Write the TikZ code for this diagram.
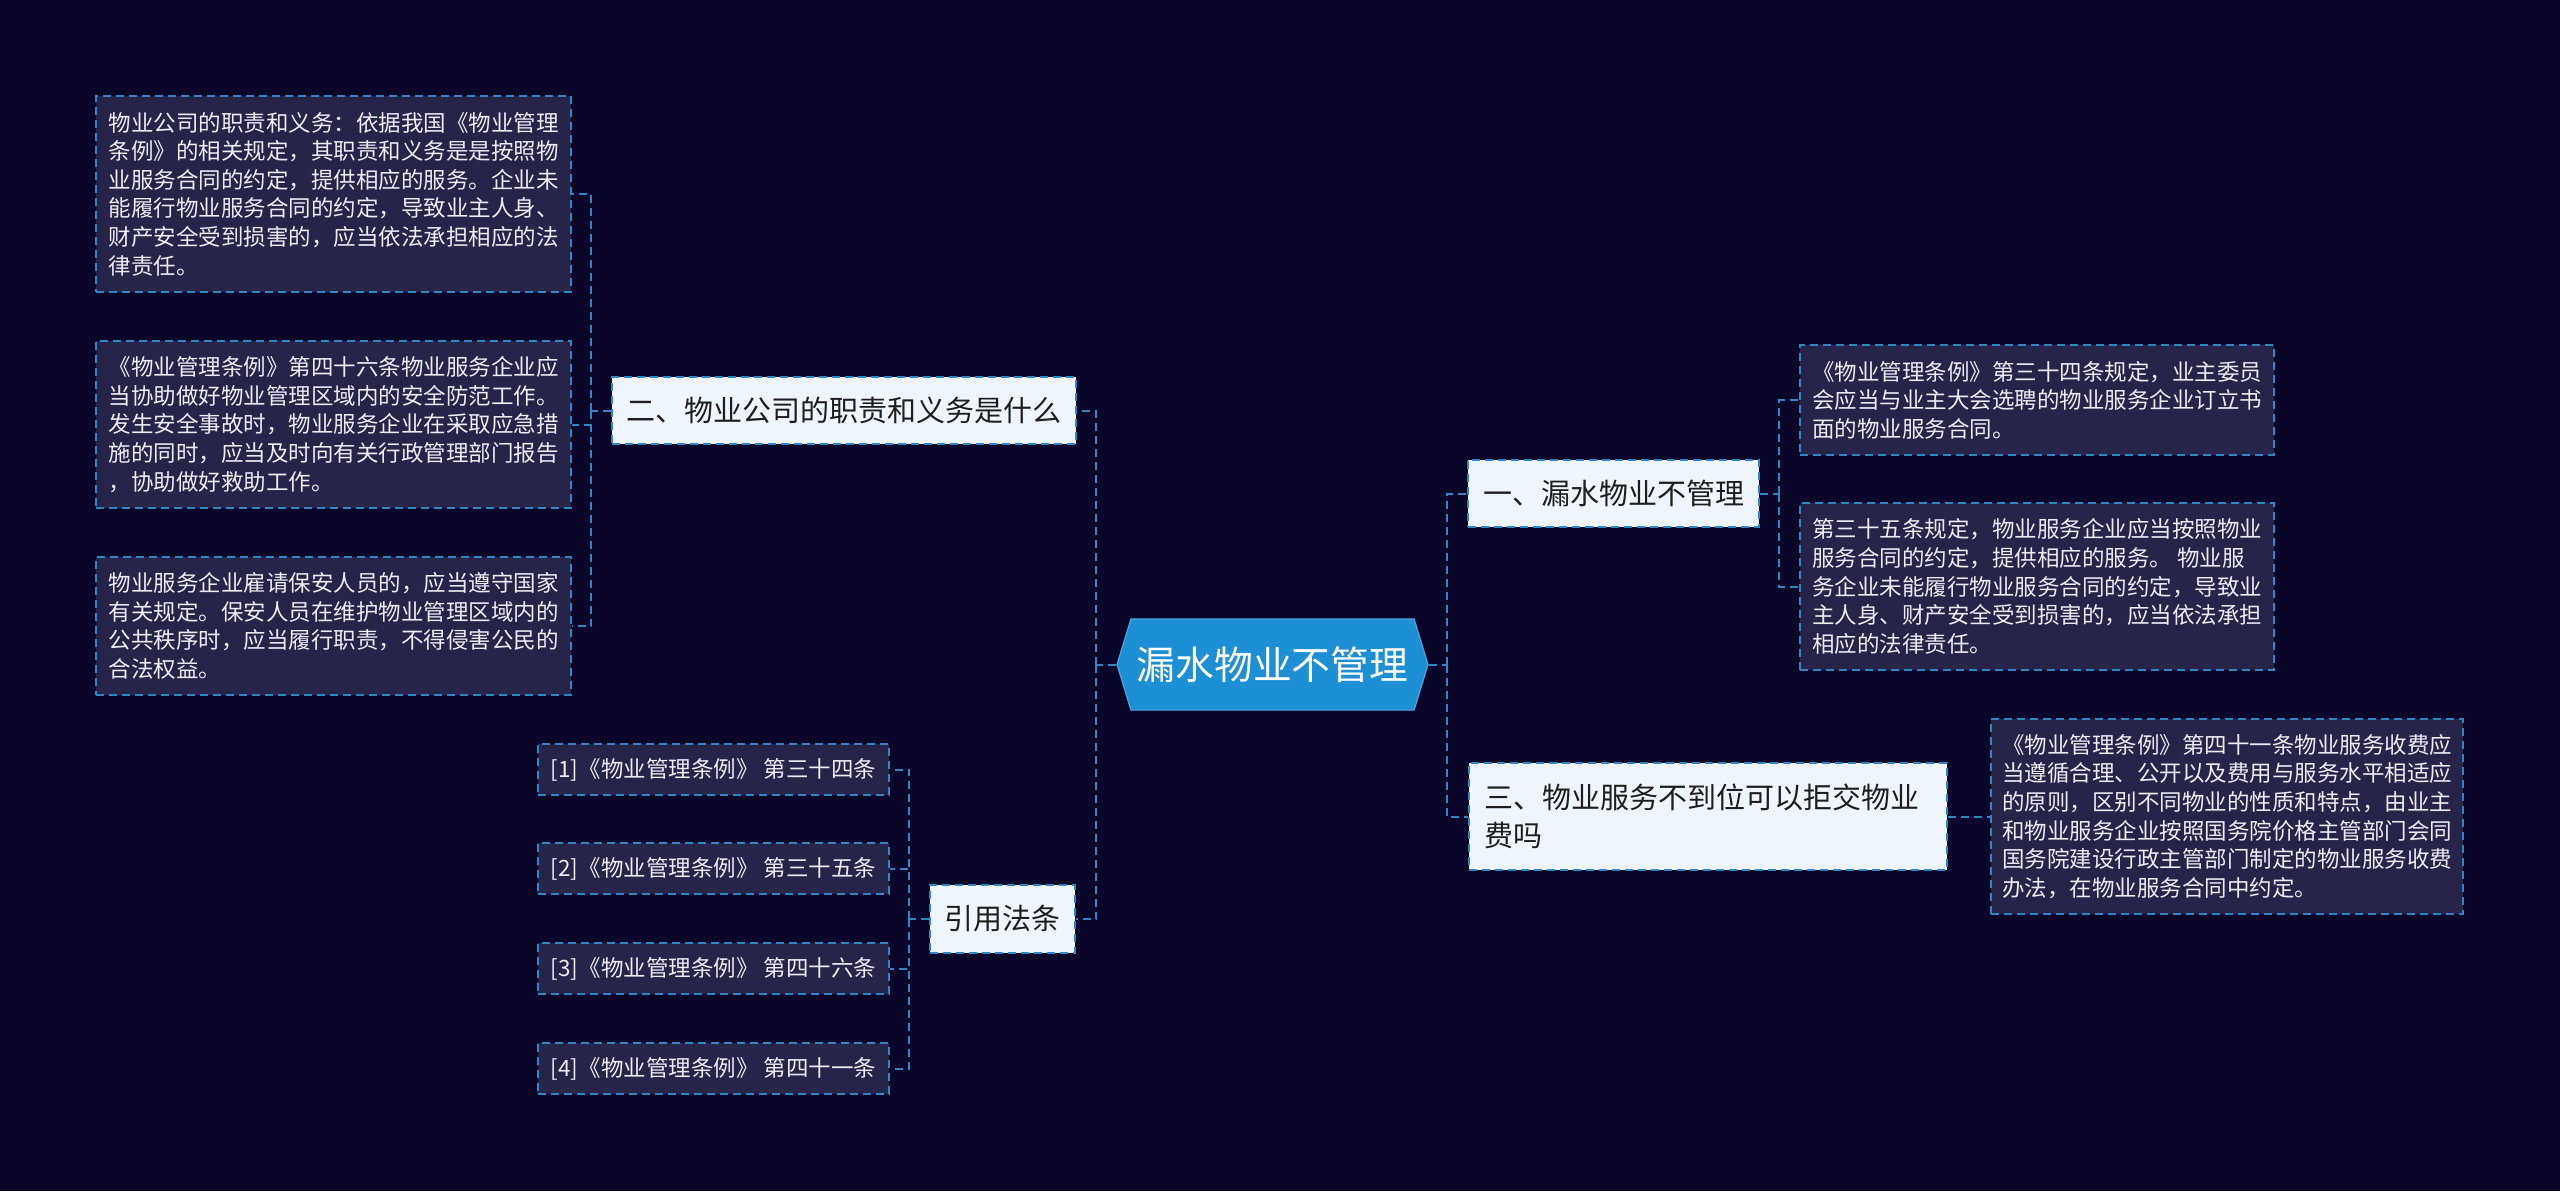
\documentclass[tikz,border=0pt]{standalone}
\usepackage{fontspec}
\setmainfont{Noto Sans CJK SC}
\usetikzlibrary{shapes.symbols}

\definecolor{bgnavy}{HTML}{0A0629}
\definecolor{linkblue}{HTML}{2E86C8}
\definecolor{leaffill}{HTML}{27244A}
\definecolor{leaftext}{HTML}{ECECF2}
\definecolor{topicfill}{HTML}{EEF5FD}
\definecolor{topictext}{HTML}{1E1E1E}
\definecolor{rootfill}{HTML}{1D8FD4}

\tikzset{
  linkline/.style={draw=linkblue, line width=1pt, dash pattern=on 4pt off 2.5pt},
  leafbox/.style={linkline, fill=leaffill, text=leaftext, align=left, inner sep=0pt,
    font=\fontsize{11.25pt}{14.3pt}\selectfont},
  topicbox/.style={linkline, fill=topicfill, text=topictext, align=left, inner sep=0pt,
    font=\fontsize{14.5pt}{19pt}\selectfont},
  rootbox/.style={shape=signal, signal to=east and west, signal pointer angle=146,
    fill=rootfill, draw=rootfill!80!white, line width=0.6pt, text=white, inner sep=0pt,
    font=\fontsize{19.4pt}{23pt}\selectfont}
}

\begin{document}
\begin{tikzpicture}[x=0.5pt,y=-0.5pt]

  \fill[bgnavy] (0,0) rectangle (2560,1191);
  \useasboundingbox (0,0) rectangle (2560,1191);

  % ========== Root ==========
  \node[rootbox, minimum width=155.5pt, minimum height=45.5pt] (root) at (1272.5,664.5) {漏水物业不管理};

  % ========== Right side ==========
  \node[topicbox, minimum width=145.5pt, minimum height=33.5pt] (q1) at (1613.5,493.5) {一、漏水物业不管理};
  \node[topicbox, text width=224pt, minimum width=239pt, minimum height=53.5pt] (q3) at (1708,816.5)
    {三、物业服务不到位可以拒交物业\\费吗};

  \node[leafbox, minimum width=237pt, minimum height=55pt] (r1) at (2037,400)
    {《物业管理条例》第三十四条规定，业主委员\\会应当与业主大会选聘的物业服务企业订立书\\面的物业服务合同。};
  \node[leafbox, minimum width=237pt, minimum height=83.5pt] (r2) at (2037,586.5)
    {第三十五条规定，物业服务企业应当按照物业\\服务合同的约定，提供相应的服务。 物业服\\务企业未能履行物业服务合同的约定，导致业\\主人身、财产安全受到损害的，应当依法承担\\相应的法律责任。};
  \node[leafbox, minimum width=236pt, minimum height=97.5pt] (r3) at (2227,816.5)
    {《物业管理条例》第四十一条物业服务收费应\\当遵循合理、公开以及费用与服务水平相适应\\的原则，区别不同物业的性质和特点，由业主\\和物业服务企业按照国务院价格主管部门会同\\国务院建设行政主管部门制定的物业服务收费\\办法，在物业服务合同中约定。};

  % ========== Left side ==========
  \node[topicbox, minimum width=232pt, minimum height=33.5pt] (q2) at (844,410.5) {二、物业公司的职责和义务是什么};
  \node[topicbox, minimum width=72.5pt, minimum height=34pt] (q4) at (1002.5,919) {引用法条};

  \node[leafbox, minimum width=237.5pt, minimum height=98pt] (l1) at (333.5,194)
    {物业公司的职责和义务：依据我国《物业管理\\条例》的相关规定，其职责和义务是是按照物\\业服务合同的约定，提供相应的服务。企业未\\能履行物业服务合同的约定，导致业主人身、\\财产安全受到损害的，应当依法承担相应的法\\律责任。};
  \node[leafbox, minimum width=237.5pt, minimum height=83.5pt] (l2) at (333.5,424.5)
    {《物业管理条例》第四十六条物业服务企业应\\当协助做好物业管理区域内的安全防范工作。\\发生安全事故时，物业服务企业在采取应急措\\施的同时，应当及时向有关行政管理部门报告\\，协助做好救助工作。};
  \node[leafbox, minimum width=237.5pt, minimum height=69pt] (l3) at (333.5,626)
    {物业服务企业雇请保安人员的，应当遵守国家\\有关规定。保安人员在维护物业管理区域内的\\公共秩序时，应当履行职责，不得侵害公民的\\合法权益。};

  \node[leafbox, minimum width=175.5pt, minimum height=25.5pt] (c1) at (713.5,769.5) {[1]《物业管理条例》 第三十四条};
  \node[leafbox, minimum width=175.5pt, minimum height=25.5pt] (c2) at (713.5,868.5) {[2]《物业管理条例》 第三十五条};
  \node[leafbox, minimum width=175.5pt, minimum height=25.5pt] (c3) at (713.5,968.5) {[3]《物业管理条例》 第四十六条};
  \node[leafbox, minimum width=175.5pt, minimum height=25.5pt] (c4) at (713.5,1068.5) {[4]《物业管理条例》 第四十一条};

  % ========== Connectors ==========
  \coordinate (rspine) at (1447,664.5);
  \coordinate (lspine) at (1096,664.5);
  \coordinate (q1spine) at (1779,493.5);
  \coordinate (q2spine) at (591,410.5);
  \coordinate (q4spine) at (909,919);

  \draw[linkline] (root.east) -- (rspine);
  \draw[linkline] (rspine) |- (q1.west);
  \draw[linkline] (rspine) |- (q3.west);
  \draw[linkline] (root.west) -- (lspine);
  \draw[linkline] (lspine) |- (q2.east);
  \draw[linkline] (lspine) |- (q4.east);

  \draw[linkline] (q1.east) -- (q1spine);
  \draw[linkline] (q1spine) |- (r1.west);
  \draw[linkline] (q1spine) |- (r2.west);
  \draw[linkline] (q3.east) -- (r3.west);

  \draw[linkline] (q2.west) -- (q2spine);
  \draw[linkline] (q2spine) |- (l1.east);
  \draw[linkline] (q2spine) |- (l2.east);
  \draw[linkline] (q2spine) |- (l3.east);

  \draw[linkline] (q4.west) -- (q4spine);
  \draw[linkline] (q4spine) |- (c1.east);
  \draw[linkline] (q4spine) |- (c2.east);
  \draw[linkline] (q4spine) |- (c3.east);
  \draw[linkline] (q4spine) |- (c4.east);

\end{tikzpicture}
\end{document}
